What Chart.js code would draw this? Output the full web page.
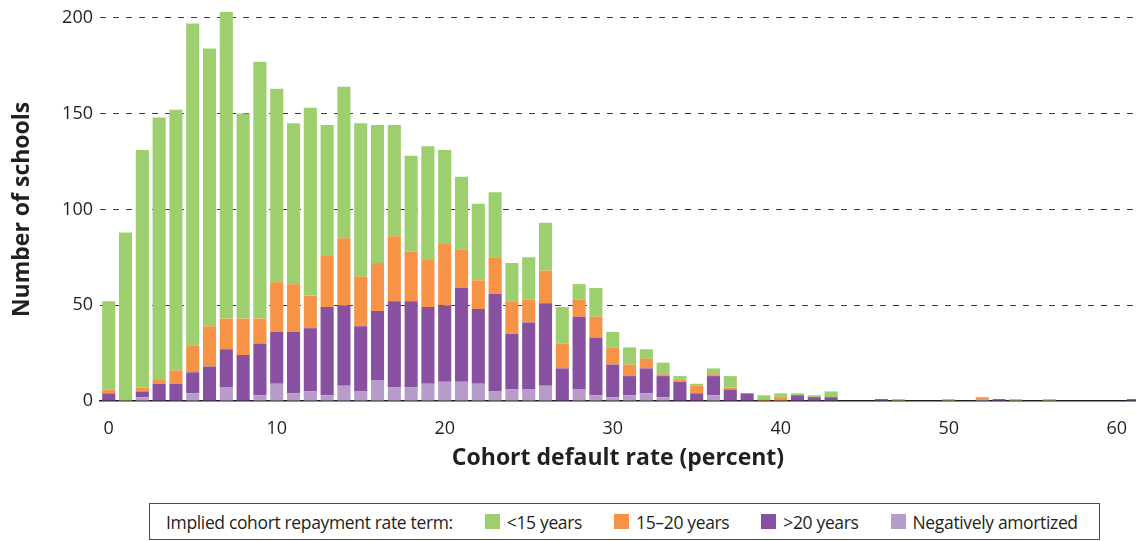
<!DOCTYPE html>
<html>
<head>
<meta charset="utf-8">
<script src="https://cdn.jsdelivr.net/npm/chart.js@4.4.1/dist/chart.umd.min.js"></script>
<style>
  body { margin: 0; background: #fff; }
  #wrap { position: relative; width: 1136px; height: 541px; overflow: hidden; font-family: "Open Sans", Lato, sans-serif; color: #231f20; }
  #chart { position: absolute; left: 0; top: 0; }
  #legend { position: absolute; left: 149px; top: 503px; width: 951px; height: 37px; box-sizing: border-box;
            border: 1px solid #4d4d4d; display: flex; align-items: center; padding-left: 16px; font-size: 17.5px; letter-spacing: -0.35px; }
  #legend .item { display: flex; align-items: center; margin-left: 32px; }
  #legend .sw { width: 15px; height: 15px; margin-right: 7px; }
</style>
</head>
<body>
<div id="wrap">
  <canvas id="chart" width="1136" height="480"></canvas>
  <div id="legend"><span>Implied cohort repayment rate term:</span></div>
</div>
<script>
// default rate buckets (percent)
const rates = [0,1,2,3,4,5,6,7,8,9,10,11,12,13,14,15,16,17,18,19,20,21,22,23,24,25,26,27,28,29,30,
  31,32,33,34,35,36,37,38,39,40,41,42,43,44,45,46,47,48,49,50,51,52,53,54,55,56,57,58,59,60,61];

// number of schools per bucket, by implied repayment term
const under15 = [46,88,124,137,136,168,145,160,107,134,101,84,98,68,79,80,72,58,50,59,49,38,40,34,20,22,25,19,8,15,8,
  9,5,6,2,1,3,6,0,2,2,1,1,3,0,0,0,1,0,0,1,0,0,0,1,0,1,0,0,0,0,0];
const from15to20 = [2,0,2,2,7,14,21,16,19,13,26,25,17,27,35,26,25,34,26,25,32,20,15,19,17,12,17,13,9,11,9,
  6,5,1,1,4,1,1,0,1,2,0,0,0,0,0,0,0,0,0,0,0,1,0,0,0,0,0,0,0,0,0];
const over20 = [4,0,3,9,9,11,18,20,24,27,27,32,33,46,42,34,36,45,45,40,40,49,39,51,29,35,43,17,38,30,17,
  10,13,11,10,4,10,6,4,0,0,3,2,2,0,0,1,0,0,0,0,0,0,1,0,0,0,0,0,0,0,1];
const negAmortized = [0,0,2,0,0,4,0,7,0,3,9,4,5,3,8,5,11,7,7,9,10,10,9,5,6,6,8,0,6,3,2,
  3,4,2,0,0,3,0,0,0,0,0,0,0,0,0,0,0,0,0,0,0,1,0,0,0,0,0,0,0,0,0];

const yTicks = [0, 50, 100, 150, 200];
const xTicks = [0, 10, 20, 30, 40, 50, 60];

const series = [
  { label: 'Negatively amortized', values: negAmortized, color: '#b79cc9' },
  { label: '>20 years', values: over20, color: '#8750a1' },
  { label: '15\u201320 years', values: from15to20, color: '#f79347' },
  { label: '<15 years', values: under15, color: '#9ecf6e' }
];

const FONT = '"Open Sans", Lato, sans-serif';
const INK = '#231f20';

function toPoints(values){
  return rates.map((r, i) => ({ x: r, y: values[i] }));
}

new Chart(document.getElementById('chart'), {
  type: 'bar',
  data: {
    datasets: series.map(s => ({
      label: s.label,
      data: toPoints(s.values),
      backgroundColor: s.color,
      borderWidth: 0,
      barPercentage: 0.78,
      categoryPercentage: 1,
      clip: false
    }))
  },
  options: {
    responsive: false,
    devicePixelRatio: 1,
    animation: false,
    layout: { padding: { top: 15, right: 0, bottom: 0, left: 0 } },
    plugins: { legend: { display: false }, tooltip: { enabled: false } },
    scales: {
      x: {
        type: 'linear',
        stacked: true,
        offset: false,
        min: -0.52,
        max: 61.15,
        afterFit: s => { s.height = 79; },
        afterBuildTicks: s => { s.ticks = xTicks.map(v => ({ value: v })); },
        grid: { display: false },
        border: { display: true, color: INK, width: 1.5 },
        ticks: { padding: 9, color: INK, font: { family: FONT, size: 18 }, maxRotation: 0 },
        title: {
          display: true, text: 'Cohort default rate (percent)', color: INK,
          font: { family: FONT, size: 23, weight: 'bold' }, padding: { top: 0, bottom: 8 }
        }
      },
      y: {
        stacked: true,
        min: 0,
        max: 200,
        afterFit: s => { s.width = 100; },
        afterBuildTicks: s => { s.ticks = yTicks.map(v => ({ value: v })); },
        grid: {
          drawTicks: false,
          color: c => c.tick && c.tick.value === 0 ? 'rgba(0,0,0,0)' : '#3a3a3a',
          lineWidth: 1
        },
        border: { display: false, dash: [6, 7] },
        ticks: { padding: 7, color: INK, font: { family: FONT, size: 18 } },
        title: {
          display: true, text: 'Number of schools', color: INK,
          font: { family: FONT, size: 23, weight: 'bold' }, padding: { top: 9, bottom: 0 }
        }
      }
    }
  }
});

// legend strip below the plot, listed top segment first
const legendEl = document.getElementById('legend');
series.slice().reverse().forEach(s => {
  const item = document.createElement('span');
  item.className = 'item';
  const sw = document.createElement('span');
  sw.className = 'sw';
  sw.style.background = s.color;
  const txt = document.createElement('span');
  txt.textContent = s.label;
  item.appendChild(sw);
  item.appendChild(txt);
  legendEl.appendChild(item);
});
</script>
</body>
</html>
